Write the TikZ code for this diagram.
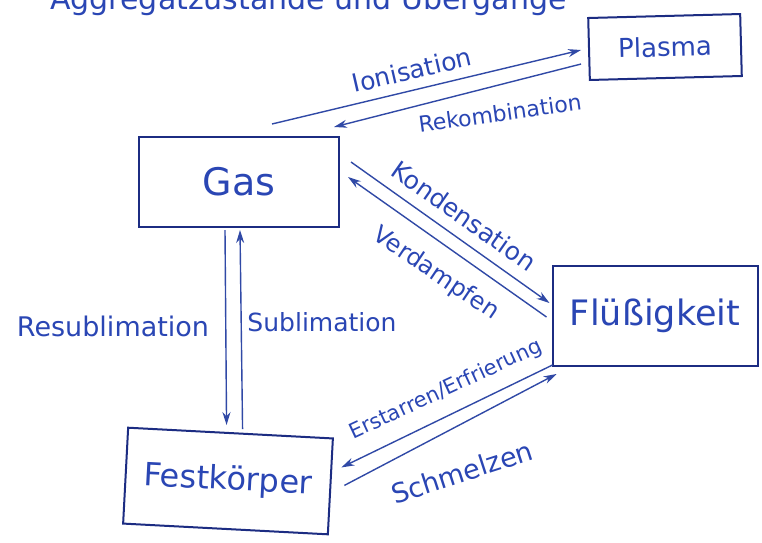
\documentclass[tikz,border=0pt]{standalone}
\usepackage{fontspec}
\setmainfont{DejaVu Sans}
\usetikzlibrary{arrows.meta,calc}
\definecolor{ink}{HTML}{2A46B4}
\definecolor{inkdark}{HTML}{1C2C82}
\definecolor{arrowink}{HTML}{3049A6}
\newcommand{\fs}[1]{\fontsize{#1}{#1}\selectfont}
\begin{document}
\begin{tikzpicture}[x=1pt,y=-1pt,
  state/.style={draw=inkdark, line width=2pt, text=ink, inner sep=0pt},
  trans/.style={draw=arrowink, line width=1.4pt, -{Stealth[length=13pt,width=8pt]}},
  lbl/.style={text=ink, inner sep=0pt, font=\fs{25}},
]
\useasboundingbox (0,0) rectangle (762,542);
\clip (0,0) rectangle (762,542);
\fill[white] (0,0) rectangle (762,542);

% heading, running off the top edge
\node[text=ink, anchor=base west, inner sep=0pt, font=\fs{30}] (title) at (50,9) {Aggregatzustände und Übergänge};

% states
\node[state, minimum width=152pt, minimum height=62pt, font=\fs{26}, rotate=1.5] (plasma) at (665,47) {Plasma};
\node[state, minimum width=200pt, minimum height=90pt, font=\fs{38}] (gas) at (239,182) {Gas};
\node[state, minimum width=205pt, minimum height=100pt, font=\fs{35}] (liq) at (655,316) {Flüßigkeit};
\node[state, minimum width=205pt, minimum height=96pt, font=\fs{32}, rotate=-3] (solid) at (228,481) {Festkörper};

% transitions
\draw[trans] ([shift={(33,-12)}]gas.north) -- ([shift={(-7,1)}]plasma.west);
\draw[trans] ([shift={(-7,15)}]plasma.west) -- ([shift={(-6,-9)}]gas.north east);
\draw[trans] ([shift={(11,-20)}]gas.east) -- ([shift={(-2,-13)}]liq.west);
\draw[trans] ([shift={(-5,1)}]liq.west) -- ([shift={(8,-5)}]gas.east);
\draw[trans] ([shift={(-14,2)}]gas.south) -- ([shift={(-4,-7)}]solid.north);
\draw[trans] ([shift={(12,-3)}]solid.north) -- ([shift={(1,2)}]gas.south);
\draw[trans] ([shift={(1,-2)}]liq.south west) -- ([shift={(10,-19)}]solid.east);
\draw[trans] ([shift={(13,-1)}]solid.east) -- ([shift={(5,7)}]liq.south west);

% transition labels
\node[lbl, rotate=13] (l-ion) at (412,70) {Ionisation};
\node[lbl, rotate=8, font=\fs{22}] (l-rek) at (500,113) {Rekombination};
\node[lbl, rotate=-35] (l-kond) at (464,216) {Kondensation};
\node[lbl, rotate=-34, font=\fs{24}] (l-verd) at (436,274) {Verdampfen};
\node[lbl, font=\fs{27}] (l-resub) at (113,326) {Resublimation};
\node[lbl] (l-sub) at (322,322) {Sublimation};
\node[lbl, rotate=25, font=\fs{21}] (l-erst) at (446,390) {Erstarren/Erfrierung};
\node[lbl, rotate=18, font=\fs{27}] (l-schm) at (462,472) {Schmelzen};
\end{tikzpicture}
\end{document}
